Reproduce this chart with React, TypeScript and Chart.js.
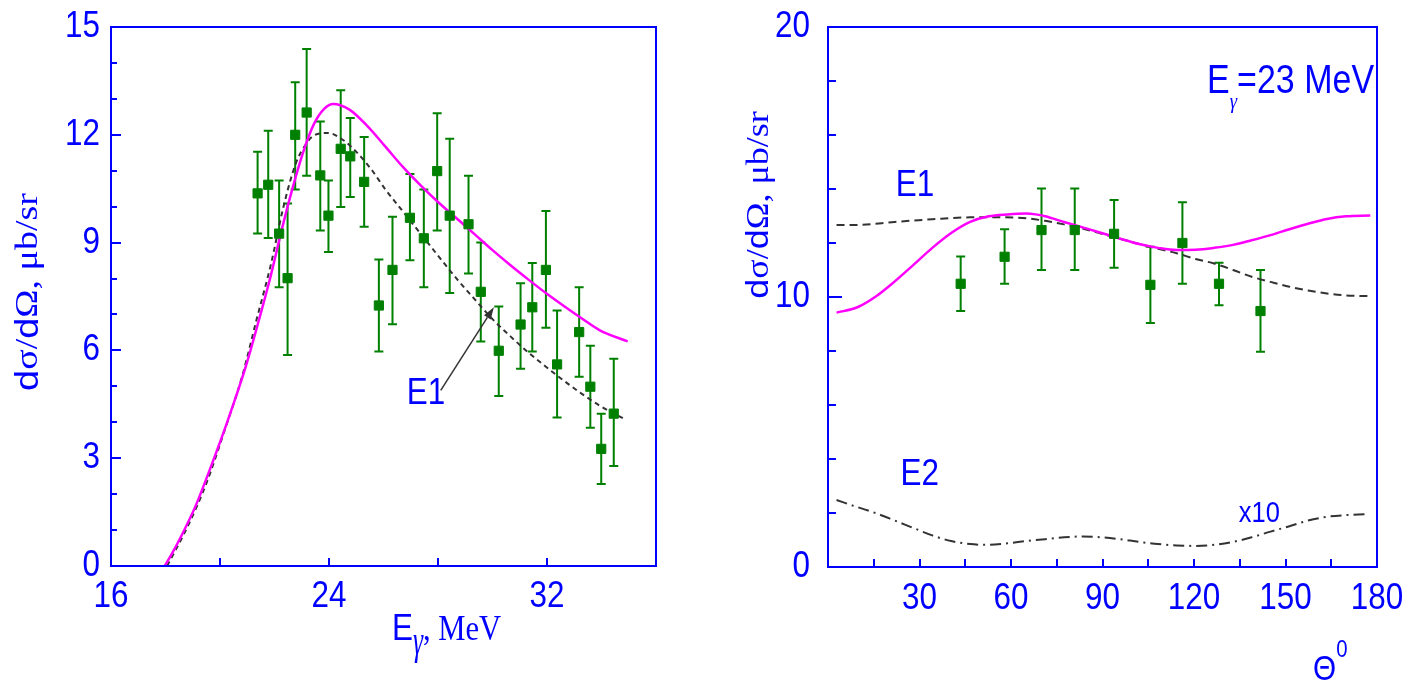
import React, { useEffect, useRef } from "react";
import { Chart, registerables } from "chart.js";

Chart.register(...registerables);

// ---------- left panel: excitation function dσ/dΩ(Eγ) ----------
const energyX = [21.38, 21.77, 22.17, 22.48, 22.76, 23.18, 23.68, 23.98, 24.43, 24.78, 25.29, 25.83, 26.33, 26.97, 27.48, 27.97, 28.43, 29.12, 29.57, 30.23, 31.03, 31.46, 31.96, 32.37, 33.18, 33.59, 33.99, 34.45];
const energyY = [10.37, 10.61, 9.25, 8.01, 12.0, 12.62, 10.87, 9.75, 11.61, 11.4, 10.69, 7.25, 8.24, 9.69, 9.12, 10.99, 9.75, 9.51, 7.63, 5.99, 6.72, 7.2, 8.24, 5.61, 6.51, 4.99, 3.26, 4.24];
const energyLow = [9.25, 9.13, 7.76, 5.87, 10.48, 10.86, 9.34, 8.74, 9.99, 10.27, 9.44, 5.97, 6.73, 8.51, 7.76, 9.34, 7.6, 8.14, 6.25, 4.73, 5.49, 5.97, 6.63, 4.13, 5.27, 3.85, 2.28, 2.78];
const energyHigh = [11.53, 12.11, 10.73, 10.09, 13.46, 14.39, 12.37, 10.73, 13.24, 12.47, 11.94, 8.53, 9.72, 10.91, 10.48, 12.6, 11.89, 10.86, 9.0, 7.22, 7.87, 8.43, 9.88, 7.11, 7.76, 6.13, 4.24, 5.77];

// full calculation (magenta)
const energyTotalX = [17.97, 18.19, 18.59, 19.11, 19.64, 20.29, 20.95, 21.47, 21.87, 22.26, 22.65, 23.05, 23.44, 23.83, 24.16, 24.75, 25.41, 26.07, 26.72, 27.38, 28.03, 28.69, 29.35, 30.0, 30.66, 31.32, 31.97, 32.63, 33.28, 33.94, 34.96];
const energyTotalY = [0, 0.28, 0.85, 1.68, 2.71, 4.06, 5.56, 6.96, 8.1, 9.34, 10.48, 11.51, 12.29, 12.73, 12.86, 12.7, 12.24, 11.67, 11.1, 10.58, 10.11, 9.67, 9.23, 8.79, 8.37, 7.97, 7.59, 7.23, 6.89, 6.56, 6.25];

// E1 contribution (dashed)
const energyE1X = [18.06, 18.85, 19.5, 20.16, 20.82, 21.34, 21.87, 22.33, 22.78, 23.18, 23.44, 23.97, 24.49, 25.02, 25.54, 26.07, 26.72, 27.38, 28.03, 28.69, 29.35, 30.0, 30.66, 31.32, 31.97, 32.63, 33.28, 33.94, 34.79];
const energyE1Y = [0, 1.16, 2.3, 3.75, 5.3, 6.85, 8.4, 10.0, 11.2, 11.77, 11.98, 12.05, 11.87, 11.51, 11.05, 10.48, 9.86, 9.23, 8.61, 7.99, 7.42, 6.87, 6.39, 5.94, 5.54, 5.15, 4.79, 4.46, 4.11];

const energyTickLabels = [16, 24, 32];
const energyValueLabels = [0, 3, 6, 9, 12, 15];

// ---------- right panel: angular distribution at Eγ = 23 MeV ----------
const angleX = [43.5, 57.9, 70.0, 80.9, 93.8, 105.7, 116.2, 128.2, 141.8];
const angleY = [10.49, 11.49, 12.48, 12.48, 12.34, 10.45, 12.0, 10.49, 9.48];
const angleLow = [9.48, 10.49, 11.0, 11.0, 11.08, 9.04, 10.49, 9.69, 7.97];
const angleHigh = [11.5, 12.51, 14.02, 14.02, 13.59, 11.86, 13.51, 11.27, 11.0];

const angleTotalX = [2.8, 9.6, 15.8, 21.9, 28.1, 34.2, 40.4, 46.6, 52.7, 58.9, 65.0, 68.1, 71.2, 77.4, 83.5, 89.7, 95.8, 102.0, 108.2, 114.3, 120.5, 126.6, 132.8, 138.9, 145.1, 151.3, 157.4, 163.6, 169.8, 177.8];
const angleTotalY = [9.42, 9.62, 10.03, 10.58, 11.2, 11.82, 12.37, 12.78, 12.99, 13.06, 13.09, 13.06, 12.99, 12.78, 12.58, 12.37, 12.16, 11.96, 11.82, 11.74, 11.75, 11.82, 11.93, 12.1, 12.29, 12.51, 12.71, 12.89, 12.99, 13.02];

const angleE1X = [2.8, 9.6, 21.9, 34.2, 46.6, 56.4, 65.0, 71.2, 77.4, 83.5, 89.7, 95.8, 102.0, 108.2, 114.3, 120.5, 126.6, 132.8, 138.9, 145.1, 151.3, 157.4, 163.6, 169.8, 177.8];
const angleE1Y = [12.67, 12.67, 12.78, 12.88, 12.95, 12.95, 12.92, 12.82, 12.69, 12.54, 12.34, 12.16, 11.96, 11.79, 11.62, 11.41, 11.24, 11.0, 10.75, 10.56, 10.38, 10.24, 10.13, 10.06, 10.03];

// E2 contribution, multiplied by 10 (dash-dot)
const angleE2X = [2.8, 9.6, 15.8, 21.9, 28.1, 34.2, 40.4, 46.6, 52.7, 58.9, 65.0, 71.2, 77.4, 83.5, 89.7, 95.8, 102.0, 108.2, 114.3, 120.5, 126.6, 132.8, 138.9, 145.1, 151.3, 157.4, 163.6, 169.8, 175.9];
const angleE2Y = [2.48, 2.22, 1.99, 1.72, 1.44, 1.17, 0.96, 0.85, 0.82, 0.88, 0.96, 1.03, 1.1, 1.13, 1.1, 1.03, 0.93, 0.85, 0.8, 0.78, 0.82, 0.93, 1.1, 1.31, 1.51, 1.72, 1.86, 1.92, 1.95];

const angleTickLabels = [30, 60, 90, 120, 150, 180];
const angleValueLabels = [0, 10, 20];

// ---------- styling ----------
const BLUE = "#0000ff";
const PINK = "#ff00ff";
const GREEN = "#008000";
const DARK = "#333333";
const SANS = "'Liberation Sans', Arial, sans-serif";
const SERIF = "'Liberation Serif', 'Times New Roman', serif";
const SQUEEZE = 0.85;

type Seg = { t: string; font: string; dy?: number; sy?: number };

function drawSegs(
  ctx: CanvasRenderingContext2D,
  segs: Seg[],
  x: number,
  y: number,
  align: "left" | "center" | "right" = "left",
  rotate = false,
  baseline: CanvasTextBaseline = "alphabetic",
  color = BLUE
) {
  ctx.save();
  ctx.translate(x, y);
  ctx.scale(SQUEEZE, 1);
  if (rotate) ctx.rotate(-Math.PI / 2);
  ctx.textAlign = "left";
  ctx.textBaseline = baseline;
  ctx.fillStyle = color;
  const widths = segs.map((s) => {
    ctx.font = s.font;
    return ctx.measureText(s.t).width;
  });
  const total = widths.reduce((a, b) => a + b, 0);
  let cx = align === "left" ? 0 : align === "center" ? -total / 2 : -total;
  segs.forEach((s, i) => {
    ctx.save();
    ctx.font = s.font;
    ctx.translate(cx, s.dy || 0);
    ctx.scale(1, s.sy || 1);
    ctx.fillText(s.t, 0, 0);
    ctx.restore();
    cx += widths[i];
  });
  ctx.restore();
}

function pts(xs: number[], ys: number[]) {
  return xs.map((x, i) => ({ x, y: ys[i] }));
}

function drawErrorBars(chart: any, xs: number[], lo: number[], hi: number[]) {
  const { ctx } = chart;
  const sx = chart.scales.x;
  const sy = chart.scales.y;
  ctx.save();
  ctx.strokeStyle = GREEN;
  ctx.lineWidth = 2;
  xs.forEach((x, i) => {
    const px = sx.getPixelForValue(x);
    const p1 = sy.getPixelForValue(lo[i]);
    const p2 = sy.getPixelForValue(hi[i]);
    ctx.beginPath();
    ctx.moveTo(px, p1);
    ctx.lineTo(px, p2);
    ctx.moveTo(px - 4.5, p1);
    ctx.lineTo(px + 4.5, p1);
    ctx.moveTo(px - 4.5, p2);
    ctx.lineTo(px + 4.5, p2);
    ctx.stroke();
  });
  ctx.restore();
}

function drawFrame(chart: any, labeledY: number[], yMajor: number, yMinor: number, xLen: number) {
  const { ctx, chartArea: a } = chart;
  const sx = chart.scales.x;
  const sy = chart.scales.y;
  ctx.save();
  ctx.strokeStyle = BLUE;
  ctx.lineWidth = 2;
  ctx.strokeRect(a.left, a.top, a.right - a.left, a.bottom - a.top);
  ctx.beginPath();
  sx.ticks.forEach((t: any) => {
    if (t.value <= sx.min || t.value >= sx.max) return;
    const px = Math.round(sx.getPixelForValue(t.value));
    ctx.moveTo(px, a.bottom);
    ctx.lineTo(px, a.bottom - xLen);
  });
  sy.ticks.forEach((t: any) => {
    if (t.value <= sy.min || t.value >= sy.max) return;
    const py = Math.round(sy.getPixelForValue(t.value));
    const len = labeledY.includes(t.value) ? yMajor : yMinor;
    ctx.moveTo(a.left, py);
    ctx.lineTo(a.left + len, py);
  });
  ctx.stroke();
  ctx.restore();
}

function drawArrow(ctx: CanvasRenderingContext2D, x1: number, y1: number, x2: number, y2: number) {
  const ang = Math.atan2(y2 - y1, x2 - x1);
  const L = 12;
  const W = 4;
  ctx.save();
  ctx.strokeStyle = DARK;
  ctx.fillStyle = DARK;
  ctx.lineWidth = 1.5;
  ctx.beginPath();
  ctx.moveTo(x1, y1);
  ctx.lineTo(x2 - L * Math.cos(ang), y2 - L * Math.sin(ang));
  ctx.stroke();
  ctx.beginPath();
  ctx.moveTo(x2, y2);
  ctx.lineTo(x2 - L * Math.cos(ang) + W * Math.sin(ang), y2 - L * Math.sin(ang) - W * Math.cos(ang));
  ctx.lineTo(x2 - L * Math.cos(ang) - W * Math.sin(ang), y2 - L * Math.sin(ang) + W * Math.cos(ang));
  ctx.closePath();
  ctx.fill();
  ctx.restore();
}

const tickFont = `37px ${SANS}`;

function baseOptions(
  xr: [number, number, number],
  yr: [number, number, number],
  yWidth: number,
  xHeight: number,
  padRight: number
): any {
  return {
    responsive: false,
    animation: false,
    events: [],
    layout: { padding: { top: 27, right: padRight, left: 0, bottom: 0 } },
    plugins: { legend: { display: false }, tooltip: { enabled: false } },
    scales: {
      x: {
        type: "linear",
        min: xr[0],
        max: xr[1],
        ticks: { stepSize: xr[2], display: false },
        grid: { display: false },
        border: { display: false },
        afterFit: (s: any) => {
          s.height = xHeight;
        },
      },
      y: {
        type: "linear",
        min: yr[0],
        max: yr[1],
        ticks: { stepSize: yr[2], display: false },
        grid: { display: false },
        border: { display: false },
        afterFit: (s: any) => {
          s.width = yWidth;
        },
      },
    },
  };
}

function EnergyPanel() {
  const ref = useRef<HTMLCanvasElement>(null);
  useEffect(() => {
    if (!ref.current) return;
    const chart = new Chart(ref.current, {
      type: "scatter",
      data: {
        datasets: [
          {
            data: pts(energyX, energyY),
            pointStyle: "rect",
            pointRadius: 6.5,
            pointBackgroundColor: GREEN,
            pointBorderColor: GREEN,
            pointBorderWidth: 1,
            showLine: false,
          },
          {
            data: pts(energyTotalX, energyTotalY),
            showLine: true,
            borderColor: PINK,
            borderWidth: 2.5,
            pointRadius: 0,
            cubicInterpolationMode: "monotone",
          },
          {
            data: pts(energyE1X, energyE1Y),
            showLine: true,
            borderColor: DARK,
            borderWidth: 2,
            borderDash: [5, 4],
            pointRadius: 0,
            cubicInterpolationMode: "monotone",
          },
        ],
      } as any,
      options: baseOptions([16, 36, 4], [0, 15, 1], 111, 117, 44),
      plugins: [
        {
          id: "energyDecor",
          beforeDatasetsDraw(c: any) {
            drawErrorBars(c, energyX, energyLow, energyHigh);
          },
          afterDraw(c: any) {
            const ctx = c.ctx as CanvasRenderingContext2D;
            const sx = c.scales.x;
            const sy = c.scales.y;
            drawFrame(c, energyValueLabels, 10, 6, 8);
            energyValueLabels.forEach((v) => {
              drawSegs(ctx, [{ t: String(v), font: tickFont }], 100, sy.getPixelForValue(v) + 10, "right");
            });
            energyTickLabels.forEach((v) => {
              drawSegs(ctx, [{ t: String(v), font: tickFont }], sx.getPixelForValue(v), 607, "center");
            });
            // axis titles
            drawSegs(
              ctx,
              [
                { t: "E", font: `37px ${SANS}` },
                { t: "γ", font: `italic 30px ${SERIF}`, dy: 14, sy: 1.3 },
                { t: ", MeV", font: `36px ${SERIF}` },
              ],
              392,
              640
            );
            drawSegs(
              ctx,
              [
                { t: "d", font: `38px ${SANS}` },
                { t: "σ/", font: `38px ${SERIF}` },
                { t: "d", font: `38px ${SANS}` },
                { t: "Ω, μb/sr", font: `38px ${SERIF}` },
              ],
              29,
              292,
              "center",
              true,
              "middle"
            );
            // E1 label with arrow to the dashed curve
            drawSegs(ctx, [{ t: "E1", font: `37px ${SANS}` }], sx.getPixelForValue(26.85), sy.getPixelForValue(4.52));
            drawArrow(
              ctx,
              sx.getPixelForValue(28.1),
              sy.getPixelForValue(4.89),
              sx.getPixelForValue(30.05),
              sy.getPixelForValue(7.2)
            );
          },
        },
      ],
    });
    return () => chart.destroy();
  }, []);
  return (
    <canvas
      ref={ref}
      width={700}
      height={683}
      style={{ position: "absolute", left: 0, top: 0, width: 700, height: 683 }}
    />
  );
}

function AnglePanel() {
  const ref = useRef<HTMLCanvasElement>(null);
  useEffect(() => {
    if (!ref.current) return;
    const chart = new Chart(ref.current, {
      type: "scatter",
      data: {
        datasets: [
          {
            data: pts(angleX, angleY),
            pointStyle: "rect",
            pointRadius: 6.5,
            pointBackgroundColor: GREEN,
            pointBorderColor: GREEN,
            pointBorderWidth: 1,
            showLine: false,
          },
          {
            data: pts(angleTotalX, angleTotalY),
            showLine: true,
            borderColor: PINK,
            borderWidth: 2.5,
            pointRadius: 0,
            cubicInterpolationMode: "monotone",
          },
          {
            data: pts(angleE1X, angleE1Y),
            showLine: true,
            borderColor: DARK,
            borderWidth: 2,
            borderDash: [8, 5],
            pointRadius: 0,
            cubicInterpolationMode: "monotone",
          },
          {
            data: pts(angleE2X, angleE2Y),
            showLine: true,
            borderColor: DARK,
            borderWidth: 2,
            borderDash: [11, 5, 2, 5],
            pointRadius: 0,
            cubicInterpolationMode: "monotone",
          },
        ],
      } as any,
      options: baseOptions([0, 180, 15], [0, 20, 2], 128, 116, 31),
      plugins: [
        {
          id: "angleDecor",
          beforeDatasetsDraw(c: any) {
            drawErrorBars(c, angleX, angleLow, angleHigh);
          },
          afterDraw(c: any) {
            const ctx = c.ctx as CanvasRenderingContext2D;
            const sx = c.scales.x;
            const sy = c.scales.y;
            drawFrame(c, angleValueLabels, 14, 8, 8);
            angleValueLabels.forEach((v) => {
              drawSegs(ctx, [{ t: String(v), font: tickFont }], 110, sy.getPixelForValue(v) + 10, "right");
            });
            angleTickLabels.forEach((v) => {
              drawSegs(ctx, [{ t: String(v), font: tickFont }], sx.getPixelForValue(v), 609, "center");
            });
            // axis titles
            drawSegs(
              ctx,
              [
                { t: "Θ", font: `35px ${SANS}` },
                { t: "0", font: `24px ${SANS}`, dy: -23 },
              ],
              613,
              680
            );
            drawSegs(
              ctx,
              [
                { t: "d", font: `36px ${SANS}` },
                { t: "σ/", font: `36px ${SERIF}` },
                { t: "d", font: `36px ${SANS}` },
                { t: "Ω, μb/sr", font: `36px ${SERIF}` },
              ],
              60,
              205,
              "center",
              true,
              "middle"
            );
            // energy of the angular distribution
            drawSegs(
              ctx,
              [
                { t: "E", font: `40px ${SANS}` },
                { t: "γ", font: `italic 22px ${SERIF}`, dy: 15 },
                { t: "=23 MeV", font: `40px ${SANS}` },
              ],
              507,
              93
            );
            // curve labels
            drawSegs(ctx, [{ t: "E1", font: `37px ${SANS}` }], sx.getPixelForValue(22.2), sy.getPixelForValue(13.75));
            drawSegs(ctx, [{ t: "E2", font: `37px ${SANS}` }], sx.getPixelForValue(23.8), sy.getPixelForValue(3.02));
            drawSegs(ctx, [{ t: "x10", font: `30px ${SANS}` }], sx.getPixelForValue(134.7), sy.getPixelForValue(1.65));
          },
        },
      ],
    });
    return () => chart.destroy();
  }, []);
  return (
    <canvas
      ref={ref}
      width={708}
      height={683}
      style={{ position: "absolute", left: 700, top: 0, width: 708, height: 683 }}
    />
  );
}

export default function App() {
  return (
    <div style={{ position: "absolute", left: 0, top: 0, width: 1408, height: 683, background: "#ffffff", overflow: "hidden" }}>
      <EnergyPanel />
      <AnglePanel />
    </div>
  );
}
